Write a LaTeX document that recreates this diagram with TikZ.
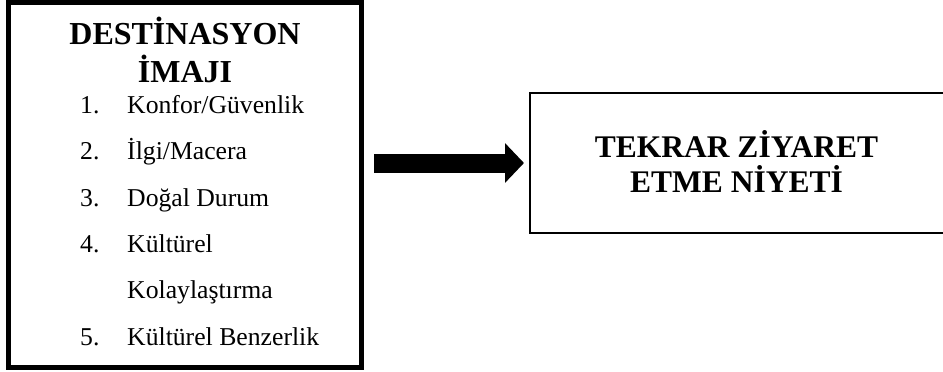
\documentclass[tikz,border=0pt]{standalone}
\usepackage{fontspec}
\setmainfont{Liberation Serif}
\usetikzlibrary{arrows.meta}
\begin{document}
\begin{tikzpicture}[x=1pt,y=-1pt,
  heading/.style={font=\bfseries\fontsize{32}{37}\selectfont, anchor=base, inner sep=0pt},
  rheading/.style={font=\bfseries\fontsize{31.5}{36}\selectfont, anchor=base, inner sep=0pt},
  itemnum/.style={font=\fontsize{25.7}{30}\selectfont, anchor=base west, inner sep=0pt},
  itemtext/.style={font=\fontsize{25.7}{30}\selectfont, anchor=base west, inner sep=0pt},
  frame/.style={draw, rectangle, inner sep=0pt}]
\useasboundingbox (0,0) rectangle (943,372);
\clip (0,0) rectangle (943,372);

% left box: destination image and its five factors
\node[frame, line width=5pt, minimum width=353pt, minimum height=364.5pt] (img) at (185,184.75) {};
\node[heading] (h1) at (185,45) {DESTİNASYON};
\node[heading] (h2) at (185,82) {İMAJI};

\node[itemnum] (n1) at (80,113.3) {1.};
\node[itemtext] (t1) at (127,113.3) {Konfor/Güvenlik};
\node[itemnum] (n2) at (80,159.7) {2.};
\node[itemtext] (t2) at (127,159.7) {İlgi/Macera};
\node[itemnum] (n3) at (80,206) {3.};
\node[itemtext] (t3) at (127,206) {Doğal Durum};
\node[itemnum] (n4) at (80,252.4) {4.};
\node[itemtext] (t4) at (127,252.4) {Kültürel};
\node[itemtext] (t4b) at (127,298.8) {Kolaylaştırma};
\node[itemnum] (n5) at (80,345.2) {5.};
\node[itemtext] (t5) at (127,345.2) {Kültürel Benzerlik};

% right box: revisit intention
\node[frame, line width=2.5pt, minimum width=416pt, minimum height=140pt] (rev) at (738,163) {};
\node[rheading] (r1) at (736.5,157) {TEKRAR ZİYARET};
\node[rheading] (r2) at (736.5,192) {ETME NİYETİ};

% block arrow between the boxes
\draw[line width=19pt, -{Triangle[length=19pt,width=38.7pt]}]
  ([xshift=10pt]img.east |- rev.west) -- ([xshift=-4.75pt]rev.west);
\end{tikzpicture}
\end{document}
